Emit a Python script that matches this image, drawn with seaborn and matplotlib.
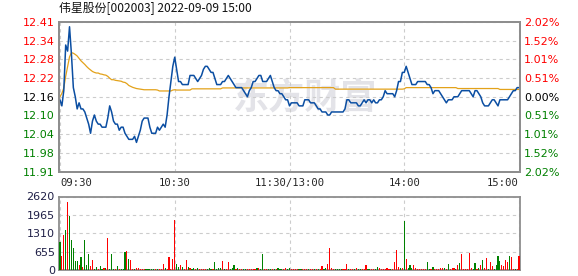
import numpy as np
import pandas as pd
import matplotlib
matplotlib.use("Agg")
import matplotlib.pyplot as plt
import seaborn as sns

# ---------------- data ----------------
title = "伟星股份[002003] 2022-09-09 15:00"
watermark = "东方财富"
prev_close = 12.16
max_pct = 2.02
price_labels = ["11.91", "11.98", "12.04", "12.10", "12.16", "12.22", "12.28", "12.34", "12.41"]
pct_labels = ["2.02%", "1.52%", "1.01%", "0.51%", "0.00%", "0.51%", "1.01%", "1.52%", "2.02%"]
time_labels = ["09:30", "10:30", "11:30/13:00", "14:00", "15:00"]
time_ticks = [0, 60, 120, 180, 240]
vol_ticks = [0, 655, 1310, 1965, 2620]
vol_labels = ["0", "655", "1310", "1965", "2620"]

price = [
    12.15, 12.13, 12.18, 12.33, 12.31, 12.39, 12.30, 12.19, 12.16, 12.12,
    12.14, 12.12, 12.12, 12.11, 12.09, 12.07, 12.04, 12.08, 12.10, 12.08,
    12.07, 12.07, 12.06, 12.06, 12.06, 12.09, 12.13, 12.11, 12.08, 12.07,
    12.07, 12.05, 12.06, 12.06, 12.04, 12.03, 12.02, 12.02, 12.02, 12.03,
    12.01, 12.03, 12.05, 12.08, 12.09, 12.09, 12.09, 12.06, 12.04, 12.04,
    12.04, 12.06, 12.05, 12.06, 12.07, 12.06, 12.10, 12.16, 12.21, 12.26,
    12.29,
    12.25, 12.21, 12.21, 12.20, 12.20, 12.20, 12.20, 12.23, 12.23, 12.23,
    12.22, 12.21, 12.22, 12.23, 12.25, 12.26, 12.26, 12.25, 12.24, 12.24,
    12.22, 12.20, 12.20, 12.20, 12.21, 12.21, 12.22, 12.23, 12.22, 12.21,
    12.20, 12.19, 12.19, 12.19, 12.19, 12.18, 12.17, 12.16, 12.18, 12.19,
    12.21, 12.21, 12.22, 12.23, 12.23, 12.21, 12.21, 12.21, 12.22, 12.23,
    12.21, 12.19, 12.18, 12.18, 12.17, 12.17, 12.16, 12.15, 12.15, 12.13,
    12.14, 12.14, 12.14, 12.14, 12.13, 12.13, 12.13, 12.15, 12.15, 12.15,
    12.14, 12.14, 12.14, 12.13, 12.12, 12.12, 12.11, 12.11, 12.11, 12.10,
    12.10, 12.11, 12.11, 12.11, 12.11, 12.11, 12.11, 12.11, 12.12, 12.15,
    12.15, 12.14, 12.14, 12.14, 12.14, 12.13, 12.13, 12.14, 12.15, 12.14,
    12.15, 12.15, 12.14, 12.15, 12.14, 12.14, 12.15, 12.15, 12.16, 12.18,
    12.17, 12.17, 12.17, 12.17, 12.16, 12.18, 12.21, 12.21, 12.24, 12.24,
    12.26, 12.24, 12.22, 12.20, 12.20, 12.20, 12.21, 12.21, 12.21, 12.21,
    12.21, 12.20, 12.20, 12.19, 12.17, 12.18, 12.18, 12.18, 12.17, 12.16,
    12.15, 12.14, 12.15, 12.15, 12.15, 12.16, 12.16, 12.16, 12.17, 12.18,
    12.18, 12.18, 12.18, 12.18, 12.17, 12.16, 12.18, 12.18, 12.17, 12.16,
    12.14, 12.13, 12.13, 12.13, 12.14, 12.15, 12.15, 12.14, 12.13, 12.15,
    12.15, 12.15, 12.15, 12.15, 12.16, 12.17, 12.18, 12.18, 12.19, 12.19,
]

avg_price = [
    12.160, 12.171, 12.189, 12.227, 12.259, 12.291, 12.305, 12.303, 12.299, 12.294,
    12.286, 12.278, 12.272, 12.266, 12.259, 12.253, 12.248, 12.243, 12.240, 12.238,
    12.238, 12.235, 12.234, 12.232, 12.231, 12.227, 12.221, 12.216, 12.216, 12.214,
    12.213, 12.212, 12.211, 12.208, 12.207, 12.203, 12.197, 12.194, 12.191, 12.189,
    12.187, 12.186, 12.185, 12.184, 12.183, 12.183, 12.183, 12.183, 12.183, 12.183,
    12.183, 12.182, 12.179, 12.179, 12.179, 12.179, 12.179, 12.179, 12.179, 12.182,
    12.183, 12.182, 12.182, 12.182, 12.182, 12.182, 12.182, 12.182, 12.182, 12.186,
    12.186, 12.186, 12.186, 12.186, 12.186, 12.186, 12.186, 12.186, 12.186, 12.186,
    12.186, 12.186, 12.186, 12.186, 12.186, 12.189, 12.189, 12.189, 12.189, 12.189,
    12.189, 12.189, 12.189, 12.189, 12.189, 12.189, 12.189, 12.189, 12.189, 12.189,
    12.189, 12.189, 12.189, 12.189, 12.189, 12.189, 12.189, 12.189, 12.189, 12.189,
    12.189, 12.189, 12.189, 12.189, 12.189, 12.189, 12.189, 12.189, 12.189, 12.189,
    12.190, 12.190, 12.190, 12.190, 12.190, 12.190, 12.190, 12.190, 12.190, 12.190,
    12.190, 12.190, 12.190, 12.190, 12.190, 12.190, 12.190, 12.190, 12.190, 12.190,
    12.190, 12.190, 12.190, 12.190, 12.185, 12.185, 12.185, 12.185, 12.185, 12.185,
    12.185, 12.185, 12.185, 12.185, 12.185, 12.185, 12.185, 12.185, 12.185, 12.185,
    12.185, 12.185, 12.185, 12.185, 12.185, 12.185, 12.185, 12.185, 12.185, 12.185,
    12.185, 12.185, 12.185, 12.185, 12.185, 12.185, 12.185, 12.185, 12.185, 12.185,
    12.186, 12.190, 12.190, 12.190, 12.190, 12.190, 12.190, 12.190, 12.190, 12.190,
    12.190, 12.190, 12.190, 12.190, 12.190, 12.190, 12.190, 12.190, 12.190, 12.190,
    12.190, 12.190, 12.190, 12.190, 12.190, 12.190, 12.190, 12.190, 12.187, 12.187,
    12.187, 12.187, 12.187, 12.187, 12.187, 12.187, 12.187, 12.187, 12.187, 12.187,
    12.187, 12.187, 12.187, 12.187, 12.187, 12.187, 12.187, 12.187, 12.187, 12.187,
    12.184, 12.184, 12.184, 12.184, 12.184, 12.184, 12.184, 12.184, 12.184, 12.184,
    12.184,
]

volume = [
    983, 497, 1262, 1443, 2438, 1917, 1080, 800, 315, 315,
    194, 460, 97, 1080, 170, 570, 133, 352, 45, 109,
    45, 133, 45, 60, 55, 1128, 45, 570, 45, 45,
    133, 45, 45, 45, 643, 667, 388, 352, 45, 45,
    60, 55, 45, 45, 45, 45, 45, 45, 45, 45,
    45, 45, 45, 45, 206, 60, 45, 461, 45, 400,
    1771,
    230, 109, 170, 97, 45, 352, 97, 60, 45, 55,
    45, 60, 45, 45, 45, 45, 45, 55, 45, 45,
    280, 45, 60, 55, 315, 45, 45, 280, 45, 55,
    170, 45, 55, 45, 45, 45, 45, 45, 45, 45,
    45, 45, 55, 73, 45, 570, 45, 45, 45, 45,
    45, 45, 45, 60, 45, 45, 45, 55, 45, 55,
    45, 45, 45, 45, 45, 45, 45, 45, 45, 45,
    45, 45, 45, 45, 45, 45, 133, 45, 55, 206,
    788, 55, 45, 45, 45, 45, 45, 45, 45, 206,
    45, 45, 45, 45, 55, 45, 45, 45, 45, 170,
    45, 45, 45, 45, 45, 97, 60, 45, 45, 45,
    55, 45, 45, 45, 280, 715, 109, 60, 60, 1735,
    388, 60, 170, 55, 170, 55, 45, 45, 45, 45,
    45, 280, 45, 45, 97, 45, 45, 45, 55, 55,
    55, 45, 206, 45, 55, 60, 45, 170, 243, 570,
    45, 45, 45, 606, 55, 45, 243, 45, 60, 170,
    352, 55, 425, 45, 280, 133, 45, 170, 497, 315,
    170, 133, 352, 280, 497, 461, 45, 45, 45, 497,
]

vol_dir = list(
    "GRRGRGGGGG" "RGRGGGRRGG" "RGGRGRGGGR" "GRGGGRGRRG" "RRRRRGGGGG" "RGRRRGRRRR" "R"
    "GGRGRRGRGG" "RGRRRRGGGR" "GGGGRGRRGG" "GRGRRGGRRR" "RRGRGGRRGG" "RGRGGGRRGG"
    "RRRRGGRRRG" "RRGRGRRGGR" "RRRGGGGRRR" "GRRGRGGRRR" "GGRRGGRRRR" "RRGRRRRGRG"
    "RGGGRRRRRR" "RGGRGRRRRR" "GRGRRRGRGR" "RRRRRGGRGR" "GRRGRRGGGG" "RRRRGRRGRR"
)

# ---------------- style ----------------
sns.set_style("white")
plt.rcParams["font.family"] = ["DejaVu Sans"]

RED = "#ff0000"
GREEN = "#008000"
FRAME = "#8e8e8e"
GRID = "#cccccc"
palette = {"R": RED, "G": GREEN}

W, H = 578, 276
fig = plt.figure(figsize=(W / 100, H / 100), dpi=100)
ax = fig.add_axes([59 / W, 1 - 171.5 / H, 461 / W, 149.5 / H])
axv = fig.add_axes([59 / W, 1 - 270 / H, 461 / W, 73.5 / H])

minutes = np.arange(len(price))
df = pd.DataFrame({"minute": minutes, "price": price, "avg": avg_price})
vdf = pd.DataFrame({"minute": np.arange(len(volume)), "volume": volume, "dir": vol_dir})

# watermark
ax.text(0.535, 0.49, watermark, transform=ax.transAxes, fontsize=26, fontweight="bold",
        color="#e3e3e8", ha="center", va="center", family=["Noto Sans CJK SC"], zorder=0)

sns.lineplot(data=df, x="minute", y="avg", color="#e3a21a", lw=0.9, ax=ax, zorder=3)
sns.lineplot(data=df, x="minute", y="price", color="#0b4ea2", lw=1.1, ax=ax, zorder=4)

ymin = prev_close * (1 - max_pct / 100)
ymax = prev_close * (1 + max_pct / 100)
yt = np.linspace(ymin, ymax, len(price_labels))
xlim = (-0.5, len(price) - 0.5)
ax.set_xlim(xlim)
ax.set_ylim(ymin, ymax)
ax.set_yticks(yt)
ax.set_yticklabels(price_labels, fontsize=8)
ax.set_xticks(time_ticks)
ax.set_xticklabels(time_labels, fontsize=7.6, family="DejaVu Sans Mono")
ax.set_xlabel("")
ax.set_ylabel("")
ax.tick_params(length=0, pad=3)
ax.tick_params(axis="x", pad=5)
xl = ax.get_xticklabels()
xl[0].set_ha("left")
xl[-1].set_ha("right")
ax.grid(True, ls=(0, (3, 3)), color=GRID, lw=0.8)
ax.set_axisbelow(True)

mid = len(price_labels) // 2
for i, lab in enumerate(ax.get_yticklabels()):
    lab.set_color(RED if i > mid else ("black" if i == mid else GREEN))

ax2 = ax.twinx()
ax2.set_ylim(ymin, ymax)
ax2.set_yticks(yt)
ax2.set_yticklabels(pct_labels[::-1], fontsize=8)
ax2.tick_params(length=0, pad=3)
for i, lab in enumerate(ax2.get_yticklabels()):
    lab.set_color(RED if i > mid else ("black" if i == mid else GREEN))

for a in (ax, ax2, axv):
    for s in a.spines.values():
        s.set_color(FRAME)
        s.set_linewidth(1.3)

# volume bars
axv.bar(vdf["minute"], vdf["volume"], width=0.6,
        color=vdf["dir"].map(palette).tolist(), linewidth=0, antialiased=False, zorder=3)
axv.set_xlim(xlim)
axv.set_ylim(vol_ticks[0], vol_ticks[-1])
axv.set_yticks(vol_ticks)
axv.set_yticklabels(vol_labels, fontsize=8, color="#1e1e46")
axv.set_xticks(time_ticks)
axv.set_xticklabels([])
axv.tick_params(length=0, pad=3)
axv.grid(True, ls=(0, (3, 3)), color=GRID, lw=0.8)
axv.set_axisbelow(True)

fig.text(59 / W, 1 - 8.5 / H, title, fontsize=8.6, ha="left", va="center",
         family=["Noto Sans CJK SC", "DejaVu Sans"], color="#111111")

fig.savefig("out.png", dpi=100)
